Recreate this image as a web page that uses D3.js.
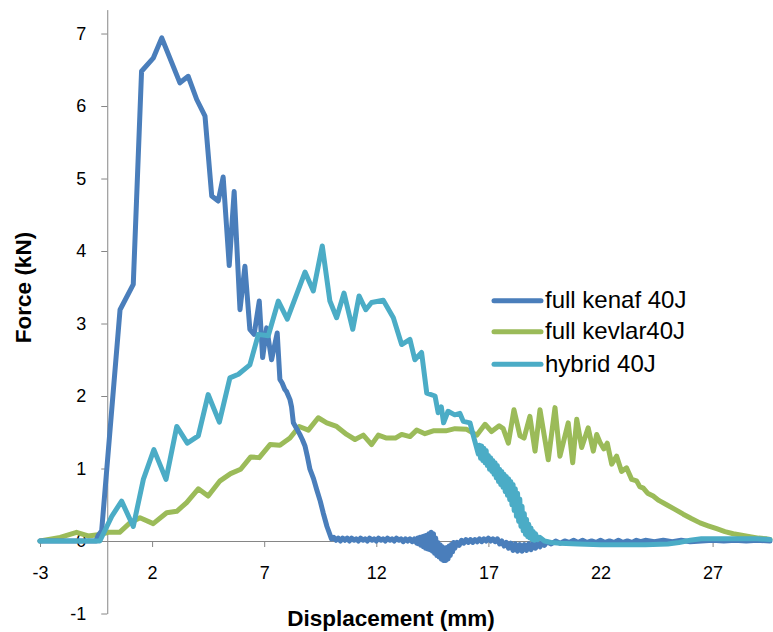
<!DOCTYPE html>
<html>
<head>
<meta charset="utf-8">
<script src="https://cdn.jsdelivr.net/npm/d3@7/dist/d3.min.js"></script>
<style>
  html, body { margin: 0; padding: 0; background: #fff; }
  svg { display: block; font-family: "Liberation Sans", Arial, sans-serif; }
</style>
</head>
<body>
<svg id="chart" width="773" height="632"></svg>
<script>
// ---------------- data ----------------
const seriesNames = ["full kenaf 40J", "full kevlar40J", "hybrid 40J"];
const seriesColors = ["#4A7EBB", "#9BBB59", "#4BACC6"];
const xTicks = [-3, 2, 7, 12, 17, 22, 27];
const yTicks = [-1, 0, 1, 2, 3, 4, 5, 6, 7];
const xLabel = "Displacement (mm)";
const yLabel = "Force (kN)";

const kenafPoints = [
  [-3, 0], [-0.5, 0.0], [-0.4, 0.08], [-0.25, 0.14], [0.57, 3.19], [1.16, 3.54],
  [1.53, 6.48], [2.05, 6.66], [2.43, 6.94], [3.24, 6.32], [3.61, 6.41], [3.99, 6.09],
  [4.36, 5.86], [4.66, 4.76], [4.95, 4.69], [5.17, 5.02], [5.44, 3.8], [5.66, 4.82],
  [5.92, 3.19], [6.14, 3.79], [6.36, 2.92], [6.55, 2.85], [6.78, 3.31], [6.93, 2.53],
  [7.11, 2.94], [7.33, 2.5], [7.58, 2.87], [7.7, 2.23], [7.8, 2.18], [7.92, 2.09],
  [8.0, 2.06], [8.15, 1.95], [8.22, 1.85], [8.3, 1.63], [8.45, 1.55], [8.59, 1.47],
  [8.7, 1.4], [8.82, 1.31], [8.93, 1.16], [9.04, 0.99], [9.2, 0.86], [9.34, 0.71],
  [9.5, 0.55], [9.63, 0.39], [9.8, 0.2], [10.0, 0.03],
  [10.1, 0.05], [10.2, 0.01], [10.3, 0.04], [10.4, 0.0], [10.5, 0.04], [10.6, 0.01],
  [10.7, 0.04], [10.8, 0.0], [10.9, 0.04], [11.0, 0.01], [11.1, 0.03], [11.2, 0.0],
  [11.3, 0.04], [11.4, 0.01], [11.5, 0.03], [11.6, 0.0], [11.7, 0.04], [11.8, 0.01],
  [11.9, 0.03], [12.0, 0.0], [12.1, 0.04], [12.2, 0.01], [12.3, 0.03], [12.4, 0.0],
  [12.5, 0.04], [12.6, 0.01], [12.7, 0.03], [12.8, 0.0], [12.9, 0.04], [13.0, 0.01],
  [13.1, 0.03], [13.2, -0.01], [13.3, 0.03], [13.4, 0.0], [13.5, 0.03], [13.6, -0.01],
  [13.7, 0.03], [13.8, -0.03], [13.85, 0.04], [13.9, -0.04], [13.95, 0.05], [14.0, -0.06],
  [14.05, 0.06], [14.1, -0.08], [14.15, 0.07], [14.2, -0.1], [14.25, 0.08], [14.3, -0.11],
  [14.35, 0.1], [14.4, -0.12], [14.45, 0.12], [14.5, -0.14], [14.55, 0.1], [14.6, -0.17],
  [14.65, 0.04], [14.7, -0.2], [14.75, -0.02], [14.8, -0.22], [14.85, -0.05], [14.9, -0.25],
  [14.95, -0.08], [15.0, -0.27], [15.05, -0.1], [15.1, -0.27], [15.15, -0.09], [15.2, -0.25],
  [15.25, -0.07], [15.3, -0.2], [15.35, -0.05], [15.4, -0.15], [15.45, -0.02], [15.5, -0.1],
  [15.6, -0.02], [15.7, -0.06], [15.8, 0.01], [15.9, -0.03], [16.0, 0.02], [16.1, -0.02],
  [16.2, 0.02], [16.3, -0.02], [16.4, 0.02], [16.5, -0.01], [16.6, 0.03], [16.7, -0.01],
  [16.8, 0.03], [16.9, 0.0], [17.0, 0.04], [17.1, 0.0], [17.2, 0.03], [17.3, -0.01],
  [17.4, 0.03], [17.5, -0.04], [17.6, 0.0], [17.7, -0.07], [17.8, -0.02], [17.9, -0.1],
  [18.0, -0.03], [18.1, -0.13], [18.2, -0.04], [18.3, -0.14], [18.4, -0.05], [18.5, -0.14],
  [18.6, -0.05], [18.7, -0.13], [18.8, -0.04], [18.9, -0.12], [19.0, -0.03], [19.1, -0.1],
  [19.2, -0.03], [19.3, -0.08], [19.4, -0.02], [19.5, -0.06], [19.6, -0.01], [19.8, -0.04],
  [20.0, 0.0], [20.2, -0.03], [20.4, 0.0], [20.6, -0.02], [20.8, 0.01], [21.0, -0.02],
  [21.2, 0.01], [21.4, -0.02], [21.6, 0.0], [21.8, -0.02], [22.0, 0.01], [22.2, -0.02],
  [22.4, 0.0], [22.6, -0.02], [22.8, 0.01], [23.0, -0.02], [23.2, 0.0], [23.4, -0.02],
  [23.6, 0.01], [23.8, -0.01], [24.0, 0.01], [24.4, -0.01], [24.8, 0.01], [25.2, -0.01],
  [25.6, 0.01], [26.0, -0.01], [26.5, 0.0], [27.0, 0.01], [27.5, 0.0], [28.0, 0.01],
  [28.5, 0.0], [29.0, 0.01], [29.56, 0.0]
];

const kevlarPoints = [
  [-3, 0], [-2.1, 0.05], [-1.37, 0.12], [-0.85, 0.07], [-0.33, 0.09], [0.05, 0.12],
  [0.55, 0.12], [1.01, 0.25], [1.46, 0.32], [2.05, 0.24], [2.65, 0.39], [3.1, 0.41],
  [3.54, 0.53], [4.06, 0.72], [4.5, 0.62], [5.03, 0.83], [5.5, 0.93], [5.95, 0.99],
  [6.4, 1.16], [6.78, 1.15], [7.26, 1.33], [7.7, 1.32], [8.15, 1.42], [8.56, 1.58],
  [8.97, 1.53], [9.41, 1.7], [9.79, 1.63], [10.23, 1.58], [10.68, 1.47], [11.05, 1.4],
  [11.42, 1.46], [11.79, 1.33], [12.09, 1.46], [12.46, 1.42], [12.85, 1.42], [13.13, 1.47],
  [13.5, 1.44], [13.8, 1.53], [14.17, 1.48], [14.54, 1.52], [15.1, 1.52], [15.51, 1.55],
  [16.03, 1.54], [16.48, 1.46], [16.85, 1.61], [17.14, 1.51], [17.48, 1.59], [17.66, 1.55],
  [17.89, 1.35], [18.14, 1.81], [18.41, 1.45], [18.59, 1.42], [18.85, 1.72], [19.08, 1.24],
  [19.3, 1.81], [19.67, 1.12], [19.97, 1.84], [20.19, 1.17], [20.56, 1.63], [20.76, 1.08],
  [20.94, 1.68], [21.16, 1.29], [21.45, 1.56], [21.68, 1.24], [21.83, 1.47], [21.98, 1.36],
  [22.15, 1.27], [22.3, 1.35], [22.5, 1.06], [22.72, 1.17], [22.94, 0.96], [23.16, 1.01],
  [23.39, 0.85], [23.61, 0.83], [23.75, 0.75], [23.91, 0.73], [24.1, 0.66], [24.35, 0.62],
  [24.6, 0.56], [24.95, 0.5], [25.3, 0.44], [25.69, 0.37], [26.05, 0.31], [26.44, 0.25],
  [26.8, 0.21], [27.18, 0.17], [27.55, 0.13], [27.92, 0.1], [28.3, 0.08], [28.67, 0.06],
  [29.05, 0.04], [29.41, 0.03], [29.56, 0.02]
];

const hybridPoints = [
  [-3, 0], [-0.33, 0], [0.2, 0.34], [0.64, 0.55], [1.16, 0.2], [1.61, 0.85],
  [2.08, 1.26], [2.62, 0.85], [3.1, 1.58], [3.57, 1.35], [4.06, 1.45], [4.5, 2.02],
  [5.0, 1.64], [5.47, 2.25], [5.85, 2.3], [6.36, 2.43], [6.74, 2.85], [7.18, 2.83],
  [7.63, 3.31], [8.03, 3.06], [8.82, 3.71], [9.19, 3.45], [9.59, 4.07], [9.93, 3.31],
  [10.23, 3.08], [10.56, 3.42], [10.95, 2.92], [11.23, 3.38], [11.53, 3.19], [11.79, 3.29],
  [12.31, 3.32], [12.76, 3.08], [13.13, 2.71], [13.5, 2.78], [13.72, 2.5], [14.02, 2.6],
  [14.25, 2.04], [14.62, 2.0], [14.76, 1.77], [14.9, 1.85], [15.0, 1.63], [15.2, 1.79],
  [15.5, 1.74], [15.73, 1.76], [15.88, 1.65], [16.18, 1.63], [16.33, 1.45], [16.55, 1.2],
  [16.6, 1.32], [16.65, 1.14], [16.7, 1.31], [16.75, 1.11], [16.8, 1.28], [16.85, 1.08],
  [16.9, 1.25], [16.95, 1.04], [17.0, 1.18], [17.05, 0.99], [17.1, 1.15], [17.15, 0.96],
  [17.2, 1.11], [17.25, 0.92], [17.3, 1.08], [17.35, 0.87], [17.4, 1.04], [17.45, 0.82],
  [17.5, 0.99], [17.55, 0.78], [17.6, 0.96], [17.65, 0.74], [17.7, 0.92], [17.75, 0.68],
  [17.8, 0.89], [17.85, 0.63], [17.9, 0.86], [17.95, 0.57], [18.0, 0.82], [18.05, 0.5],
  [18.1, 0.78], [18.15, 0.42], [18.2, 0.72], [18.25, 0.34], [18.3, 0.66], [18.35, 0.27],
  [18.4, 0.58], [18.45, 0.2], [18.5, 0.48], [18.55, 0.14], [18.6, 0.38], [18.65, 0.09],
  [18.7, 0.3], [18.75, 0.06], [18.8, 0.23], [18.85, 0.04], [18.9, 0.18], [18.95, 0.02],
  [19.0, 0.13], [19.05, 0.01], [19.1, 0.1], [19.2, 0.02], [19.3, 0.05], [19.5, 0.0],
  [19.8, -0.02], [20.2, -0.03], [21.0, -0.04], [22.0, -0.05], [23.0, -0.05], [24.0, -0.05],
  [25.0, -0.04], [25.5, -0.02], [26.0, 0.01], [26.5, 0.03], [27.0, 0.03], [28.0, 0.03],
  [29.0, 0.03], [29.56, 0.02]
];

const seriesData = [kenafPoints, kevlarPoints, hybridPoints];
const drawOrder = [1, 0, 2];

// ---------------- chart ----------------
const svg = d3.select("#chart");
const x = d3.scaleLinear().domain([-3, 29.56]).range([40, 770]);
const y = d3.scaleLinear().domain([-1, 7.33]).range([613.5, 9.6]);
const axisColor = "#868686";
const plain = d => String(d);

// y axis
const yAxis = svg.append("g")
  .attr("transform", `translate(${x(0)},0)`)
  .call(d3.axisLeft(y).tickValues(yTicks).tickFormat(plain).tickSize(6).tickSizeOuter(0).tickPadding(15));
yAxis.select(".domain").attr("stroke", axisColor);
yAxis.selectAll(".tick line").attr("stroke", axisColor);
yAxis.selectAll(".tick text").attr("fill", "#000").attr("font-size", 18)
  .attr("font-family", "Liberation Sans, Arial, sans-serif");

// x axis
const xAxis = svg.append("g")
  .attr("transform", `translate(0,${y(0)})`)
  .call(d3.axisBottom(x).tickValues(xTicks).tickFormat(plain).tickSize(6).tickSizeOuter(0).tickPadding(19));
xAxis.select(".domain").attr("stroke", axisColor);
xAxis.selectAll(".tick line").attr("stroke", axisColor);
xAxis.selectAll(".tick text").attr("fill", "#000").attr("font-size", 18)
  .attr("font-family", "Liberation Sans, Arial, sans-serif");

// lines
const line = d3.line().x(d => x(d[0])).y(d => y(d[1]));
drawOrder.forEach(i => {
  svg.append("path")
    .datum(seriesData[i])
    .attr("fill", "none")
    .attr("stroke", seriesColors[i])
    .attr("stroke-width", 5)
    .attr("stroke-linejoin", "round")
    .attr("stroke-linecap", "round")
    .attr("d", line);
});

// axis titles
svg.append("text")
  .attr("transform", `translate(23,287.5) rotate(-90)`)
  .attr("text-anchor", "middle")
  .attr("dy", "0.35em")
  .attr("font-size", 22.5)
  .attr("font-weight", "bold")
  .text(yLabel);

svg.append("text")
  .attr("x", 391)
  .attr("y", 626)
  .attr("text-anchor", "middle")
  .attr("font-size", 22.5)
  .attr("font-weight", "bold")
  .text(xLabel);

// legend
const legendY = [300.7, 331.7, 364.3];
const legend = svg.append("g");
seriesNames.forEach((name, i) => {
  legend.append("line")
    .attr("x1", 494).attr("x2", 541)
    .attr("y1", legendY[i]).attr("y2", legendY[i])
    .attr("stroke", seriesColors[i])
    .attr("stroke-width", 5)
    .attr("stroke-linecap", "round");
  legend.append("text")
    .attr("x", 545)
    .attr("y", legendY[i] + 7.5)
    .attr("font-size", 24)
    .attr("fill", "#000")
    .text(name);
});
</script>
</body>
</html>
